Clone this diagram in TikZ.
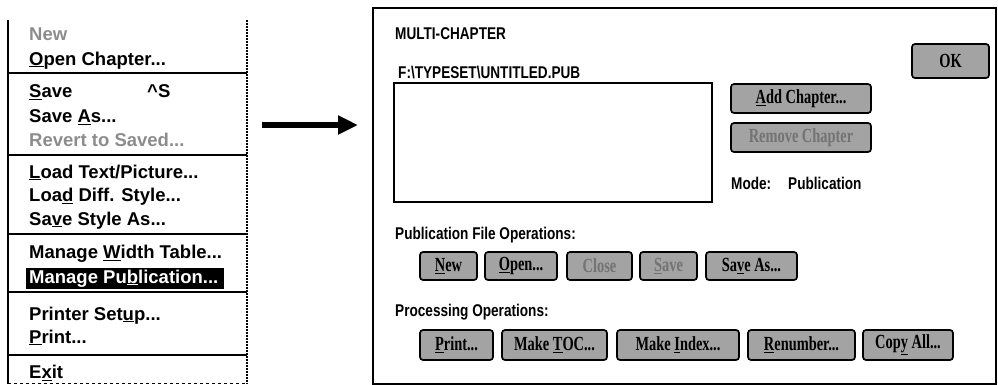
\documentclass[tikz,border=0pt]{standalone}
\usepackage{fontspec}
\setmainfont{Liberation Sans}
\newfontfamily\condfont{Liberation Sans}[FakeStretch=0.8]
\newfontfamily\btnfont{Liberation Serif}[FakeStretch=0.72]
\usetikzlibrary{arrows.meta}
\definecolor{btnfill}{gray}{0.64}
\definecolor{dimtext}{gray}{0.55}
\definecolor{dimbtn}{gray}{0.45}
\newcommand{\ukey}[1]{\underline{#1}}

\tikzset{
  menuitem/.style={anchor=base west, inner sep=0pt, font=\bfseries\fontsize{18.5}{20}\selectfont},
  menudim/.style={menuitem, text=dimtext},
  sepline/.style={line width=1.1pt},
  lbl/.style={anchor=base west, inner sep=0pt, font=\condfont\bfseries\fontsize{17}{19}\selectfont},
  btn/.style={draw, line width=1.7pt, rounded corners=3pt, fill=btnfill, inner sep=0pt,
              font=\btnfont\bfseries\fontsize{20}{22}\selectfont},
  btnoff/.style={btn, text=dimbtn},
  bigarrow/.style={line width=6.5pt, -{Triangle[length=20pt,width=18pt]}}
}

\begin{document}
\begin{tikzpicture}[x=1pt,y=-1pt]
\useasboundingbox (0,0) rectangle (998,384);

% ---------- drop-down menu ----------
\draw[line width=1.5pt] (8,20) -- (8,384);
\draw[line width=2pt, densely dotted] (247,20) -- (247,384);
\draw[line width=1pt, dashed] (8,383) -- (247,383);

\node[menudim]  (mnew)    at (29,40)    {New};
\node[menuitem] (mopen)   at (29,65)    {\ukey{O}pen Chapter...};
\draw[sepline] (8,73) -- (247,73);
\node[menuitem] (msave)   at (29,97.5)  {\ukey{S}ave};
\node[menuitem] (mkey)    at (147,97.5) {\^{}S};
\node[menuitem] (msaveas) at (29,122.5) {Save \ukey{A}s...};
\node[menudim]  (mrevert) at (29,146.5) {Revert to Saved...};
\draw[sepline] (8,155) -- (247,155);
\node[menuitem] (mload)   at (29,178)   {\ukey{L}oad Text/Picture...};
\node[menuitem] (mdiff)   at (29,201.5) {Loa\ukey{d} Diff. Style...};
\node[menuitem] (mstyle)  at (29,225)   {Sa\ukey{v}e Style As...};
\draw[sepline] (8,234) -- (247,234);
\node[menuitem] (mwidth)  at (29,258.5) {Manage \ukey{W}idth Table...};
\fill (26,268) rectangle (224,289);
\node[menuitem, text=white] (mpub) at (29,283) {Manage Pu\ukey{b}lication...};
\draw[sepline] (8,292) -- (247,292);
\node[menuitem] (mprinter) at (29,320)  {Printer Set\ukey{u}p...};
\node[menuitem] (mprint)   at (29,343)  {\ukey{P}rint...};
\draw[sepline] (8,355) -- (247,355);
\node[menuitem] (mexit)    at (29,378.5) {E\ukey{x}it};

% ---------- arrow from the menu to the dialog ----------
\coordinate (arrtail) at (262,125);
\coordinate (arrtip)  at (358,125);
\draw[bigarrow] (arrtail) -- (arrtip);

% ---------- dialog box ----------
\draw[line width=2pt] (373,8) rectangle (996,383.5);

\node[lbl] (title) at (395,39) {MULTI-CHAPTER};
\node[lbl] (path)  at (398,78) {F:\textbackslash TYPESET\textbackslash UNTITLED.PUB};
\draw[line width=1.3pt] (394,83) rectangle (712,202);

\node[btn, minimum width=77pt, minimum height=34pt] (ok) at (950.5,61) {OK};
\node[btn, minimum width=140pt, minimum height=29pt] (addch) at (801,98.5) {\ukey{A}dd Chapter...};
\node[btnoff, minimum width=140pt, minimum height=29pt] (remch) at (801,137.5) {Remove Chapter};

\node[lbl] (mode)    at (731,189) {Mode:};
\node[lbl] (modeval) at (788,189) {Publication};

\node[lbl] (pubops) at (395,239) {Publication File Operations:};
\node[btn,    minimum width=57pt,  minimum height=28pt] (bnew)    at (448.5,266) {\ukey{N}ew};
\node[btn,    minimum width=72pt,  minimum height=28pt] (bopen)   at (521,266)   {\ukey{O}pen...};
\node[btnoff, minimum width=65pt,  minimum height=28pt] (bclose)  at (599.5,266) {Close};
\node[btnoff, minimum width=57pt,  minimum height=28pt] (bsave)   at (668.5,266) {\ukey{S}ave};
\node[btn,    minimum width=91pt,  minimum height=28pt] (bsaveas) at (751.5,266) {Sa\ukey{v}e As...};

\node[lbl] (procops) at (395,316) {Processing Operations:};
\node[btn, minimum width=73pt,  minimum height=30pt] (bprint) at (456.5,345) {\ukey{P}rint...};
\node[btn, minimum width=105pt, minimum height=30pt] (btoc)   at (554.5,345) {Make \ukey{T}OC...};
\node[btn, minimum width=122pt, minimum height=30pt] (bindex) at (678,345)   {Make \ukey{I}ndex...};
\node[btn, minimum width=107pt, minimum height=30pt] (brenum) at (801.5,345) {\ukey{R}enumber...};
\node[btn, minimum width=90pt,  minimum height=30pt] (bcopy)  at (908,345)   {Cop\ukey{y} All...};
\end{tikzpicture}
\end{document}
